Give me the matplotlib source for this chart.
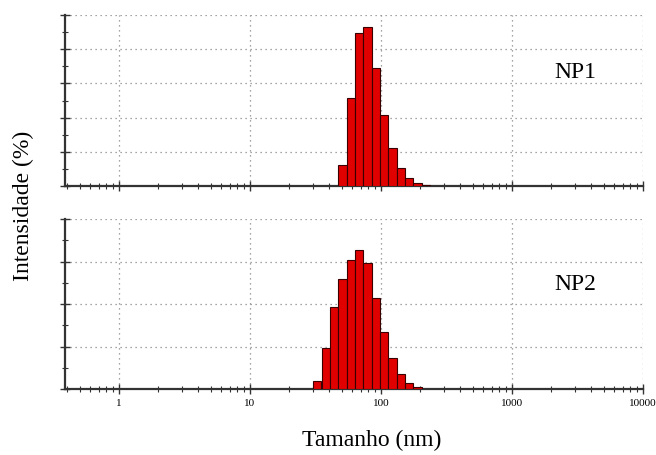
import numpy as np
import matplotlib
matplotlib.use('Agg')
import matplotlib.pyplot as plt
from matplotlib.ticker import LogLocator, MultipleLocator, NullFormatter, FixedLocator, FixedFormatter

plt.rcParams['font.family'] = ['Liberation Serif', 'DejaVu Serif']

# size classes (nm) and intensity (%)
np1_size = [50.75, 58.77, 68.06, 78.82, 91.28, 105.7, 122.4, 141.8, 164.2, 190.1, 220.2]
np1_int = [3.1, 12.9, 22.4, 23.2, 17.2, 10.4, 5.5, 2.6, 1.1, 0.4, 0.15]

np2_size = [32.67, 37.84, 43.82, 50.75, 58.77, 68.06, 78.82, 91.28, 105.7, 122.4, 141.8, 164.2, 190.1]
np2_int = [1.0, 4.8, 9.6, 13.0, 15.2, 16.4, 14.8, 10.7, 6.7, 3.6, 1.8, 0.7, 0.2]

xticks = [1, 10, 100, 1000, 10000]
xtick_labels = ['1', '10', '100', '1000', '10000']

# ratio between neighbouring size classes (70 classes, 0.4 - 10000 nm)
r = (10000 / 0.4) ** (1 / 70)

fig = plt.figure(figsize=(6.56, 4.55), dpi=100)
ax1 = fig.add_axes([65/656, 1-186/455, 578/656, 171/455])
ax2 = fig.add_axes([65/656, 1-389/455, 578/656, 170/455])


def draw(ax, size, inten, ymax, show_labels):
    size = np.array(size)
    left = size / np.sqrt(r)
    width = size * np.sqrt(r) - left
    ax.bar(left, inten, width=width, align='edge', color='#e00000',
           edgecolor='#3a0000', linewidth=0.8, zorder=3)
    ax.set_xscale('log')
    ax.set_xlim(0.387, 10000)
    ax.set_ylim(0, ymax)
    ax.xaxis.set_major_locator(FixedLocator(xticks))
    ax.xaxis.set_minor_locator(LogLocator(base=10, subs=np.arange(2, 10)))
    ax.xaxis.set_minor_formatter(NullFormatter())
    if show_labels:
        ax.xaxis.set_major_formatter(FixedFormatter(xtick_labels))
    else:
        ax.xaxis.set_major_formatter(NullFormatter())
    ax.yaxis.set_major_locator(MultipleLocator(5))
    ax.yaxis.set_minor_locator(MultipleLocator(2.5))
    ax.set_yticklabels([])
    ax.tick_params(which='major', direction='inout', length=7, width=1.0,
                   color='#333333', labelsize=8, pad=4)
    ax.tick_params(which='minor', direction='inout', length=4, width=0.8, color='#333333')
    ax.grid(True, which='major', linestyle=(0, (1, 3)), color='#888888', linewidth=0.9)
    for s in ['top', 'right']:
        ax.spines[s].set_visible(False)
    for s in ['left', 'bottom']:
        ax.spines[s].set_color('#333333')
        ax.spines[s].set_linewidth(1.6)


draw(ax1, np1_size, np1_int, 25, False)
draw(ax2, np2_size, np2_int, 20, True)

fig.text(575/656, 1-73/455, 'NP1', fontsize=17, ha='center', va='center')
fig.text(575/656, 1-285/455, 'NP2', fontsize=17, ha='center', va='center')
fig.text(372/656, 1-440/455, 'Tamanho (nm)', fontsize=17, ha='center', va='center')
fig.text(23/656, 1-206/455, 'Intensidade (%)', fontsize=17, ha='center', va='center',
         rotation=90)

fig.savefig('out.png', dpi=100)
